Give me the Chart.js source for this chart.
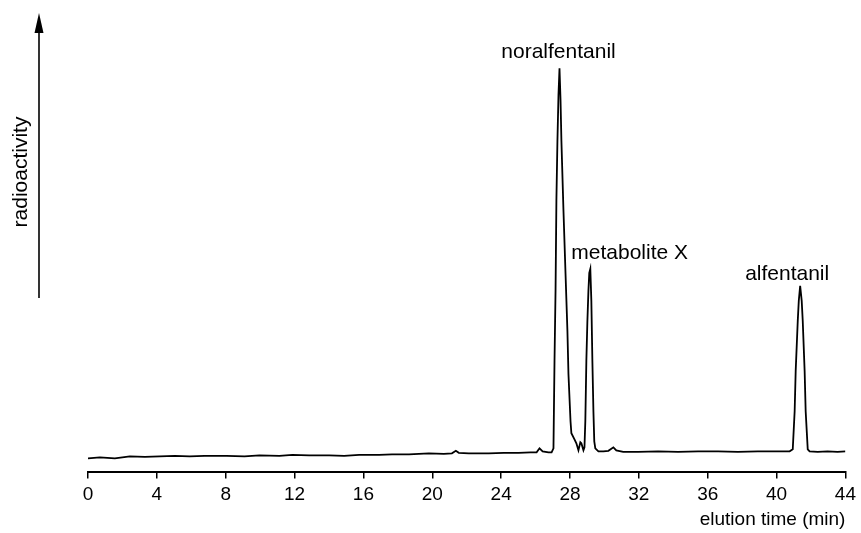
<!DOCTYPE html>
<html>
<head>
<meta charset="utf-8">
<script src="https://cdn.jsdelivr.net/npm/chart.js@4.4.1/dist/chart.umd.min.js"></script>
<style>
  html, body { margin: 0; padding: 0; background: #fff; }
  #wrap { width: 861px; height: 533px; }
</style>
</head>
<body>
<div id="wrap"><canvas id="chart" width="861" height="533"></canvas></div>
<script>
// ── Data ─────────────────────────────────────────────────────────────────
const elutionTimes = [
  0, 0.69, 1.56, 2.43, 3.30, 4.17, 5.04, 5.91, 6.77, 8.05, 9.09, 9.96, 11.12, 11.87,
  12.85, 14.01, 14.88, 15.75, 16.91, 17.66, 18.65, 19.80, 20.67, 21.14, 21.37, 21.54,
  22.12, 23.28, 24.15, 25.01, 25.71, 26.06, 26.23, 26.41, 26.75, 26.93, 27.04, 27.10,
  27.16, 27.21, 27.27, 27.33, 27.39, 27.45, 27.50, 27.62, 27.74, 27.85, 27.91, 28.03,
  28.08, 28.26, 28.37, 28.49, 28.60, 28.66, 28.78, 28.84, 28.89, 28.95, 29.01, 29.07,
  29.12, 29.18, 29.24, 29.30, 29.36, 29.41, 29.47, 29.65, 29.94, 30.23, 30.52, 30.69,
  31.09, 31.96, 33.12, 34.28, 35.44, 36.60, 37.75, 38.91, 40.07, 40.76, 40.94, 41.05,
  41.11, 41.23, 41.29, 41.37, 41.46, 41.52, 41.63, 41.69, 41.81, 41.92, 42.39, 42.96,
  43.54, 44.0
];
const radioactivity = [
  3.06, 3.28, 3.06, 3.49, 3.38, 3.49, 3.60, 3.49, 3.60, 3.60, 3.49, 3.71, 3.60, 3.82,
  3.71, 3.71, 3.60, 3.82, 3.82, 3.93, 3.93, 4.15, 4.04, 4.15, 4.69, 4.26,
  4.15, 4.15, 4.26, 4.26, 4.37, 4.37, 5.24, 4.59, 4.37, 4.37, 5.24, 24.24,
  39.52, 59.17, 72.27, 82.10, 87.99, 81.00, 72.27, 56.99, 43.23, 30.79, 21.40, 11.14,
  8.52, 7.21, 6.33, 4.80, 6.55, 6.33, 4.80, 5.46, 11.14, 24.24, 32.97, 39.52,
  43.45, 44.32, 37.34, 24.24, 13.32, 6.77, 5.24, 4.59, 4.59, 4.69, 5.46, 4.80,
  4.48, 4.48, 4.59, 4.48, 4.59, 4.59, 4.48, 4.59, 4.59, 4.59, 5.02, 13.32,
  22.05, 32.97, 37.34, 40.61, 37.34, 32.97, 22.05, 13.32, 5.02, 4.59, 4.48, 4.59,
  4.48, 4.59
];
const xTicks = [0, 4, 8, 12, 16, 20, 24, 28, 32, 36, 40, 44];

const peakNames = ['noralfentanil', 'metabolite X', 'alfentanil'];
const peakTimes = [27.39, 29.18, 41.37];
const peakHeights = [87.99, 44.32, 40.61];

const FONT = '"Liberation Sans", Arial, Helvetica, sans-serif';

// ── Peak labels + the free-standing y arrow ──────────────────────────────
const decorPlugin = {
  id: 'decor',
  afterDraw(chart) {
    const { ctx, scales: { x, y } } = chart;
    ctx.save();
    ctx.fillStyle = '#000';
    ctx.strokeStyle = '#000';
    ctx.font = '21px ' + FONT;
    ctx.textBaseline = 'middle';
    // label offsets (px) relative to each peak apex
    const offs = [
      { dx: -1, dy: -16, align: 'center' },
      { dx: -19, dy: -16, align: 'left' },
      { dx: -13, dy: -12, align: 'center' },
    ];
    peakNames.forEach((name, i) => {
      const px = x.getPixelForValue(peakTimes[i]);
      const py = y.getPixelForValue(peakHeights[i]);
      ctx.textAlign = offs[i].align;
      ctx.fillText(name, px + offs[i].dx, py + offs[i].dy);
    });

    // y arrow
    const ax = 39;
    ctx.lineWidth = 1.6;
    ctx.beginPath();
    ctx.moveTo(ax, 298);
    ctx.lineTo(ax, 28);
    ctx.stroke();
    ctx.beginPath();
    ctx.moveTo(ax, 13);
    ctx.lineTo(ax - 4.5, 33);
    ctx.lineTo(ax + 4.5, 33);
    ctx.closePath();
    ctx.fill();

    ctx.translate(21, 172);
    ctx.rotate(-Math.PI / 2);
    ctx.textAlign = 'center';
    ctx.fillText('radioactivity', 0, 0);
    ctx.restore();
  }
};

const whiteBg = {
  id: 'whiteBg',
  beforeDraw(chart) {
    const { ctx, width, height } = chart;
    ctx.save();
    ctx.fillStyle = '#fff';
    ctx.fillRect(0, 0, width, height);
    ctx.restore();
  }
};

new Chart(document.getElementById('chart'), {
  type: 'line',
  data: {
    datasets: [{
      data: elutionTimes.map((t, i) => ({ x: t, y: radioactivity[i] })),
      borderColor: '#000',
      borderWidth: 1.8,
      pointRadius: 0,
      tension: 0,
      fill: false,
    }],
  },
  options: {
    responsive: false,
    animation: false,
    layout: { padding: { left: 88, right: 13, top: 13, bottom: 2 } },
    plugins: { legend: { display: false }, tooltip: { enabled: false } },
    scales: {
      x: {
        type: 'linear',
        min: 0,
        max: 44,
        afterBuildTicks: (axis) => { axis.ticks = xTicks.map((v) => ({ value: v })); },
        border: { display: true, color: '#000', width: 2 },
        grid: { drawOnChartArea: false, drawTicks: true, tickLength: 6, color: '#000', lineWidth: 1.5 },
        ticks: { color: '#000', padding: 5, maxRotation: 0, font: { family: FONT, size: 19 } },
        title: {
          display: true,
          text: 'elution time (min)',
          align: 'end',
          color: '#000',
          padding: { top: -3, bottom: 0 },
          font: { family: FONT, size: 19 },
        },
      },
      y: { display: false, min: 0, max: 100 },
    },
  },
  plugins: [whiteBg, decorPlugin],
});
</script>
</body>
</html>
